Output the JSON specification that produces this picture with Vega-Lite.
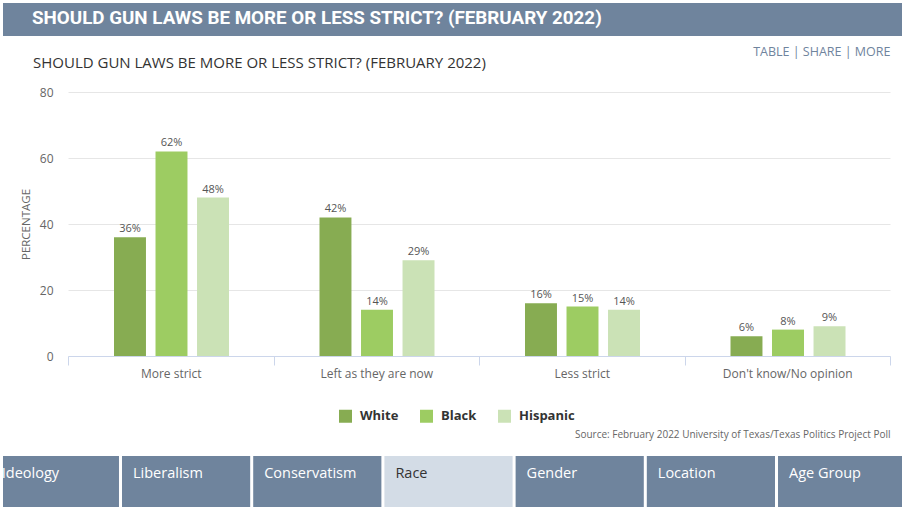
{
  "$schema": "https://vega.github.io/schema/vega-lite/v6.json",
  "padding": {"left": 3, "top": 3, "right": 0, "bottom": 0},
  "background": "white",
  "spacing": 9,
  "config": {"view": {"stroke": null}, "font": "Open Sans"},
  "datasets": {
    "poll": [
      {"response": "More strict", "race": "White", "pct": 36, "label": "36%"},
      {"response": "More strict", "race": "Black", "pct": 62, "label": "62%"},
      {"response": "More strict", "race": "Hispanic", "pct": 48, "label": "48%"},
      {"response": "Left as they are now", "race": "White", "pct": 42, "label": "42%"},
      {"response": "Left as they are now", "race": "Black", "pct": 14, "label": "14%"},
      {"response": "Left as they are now", "race": "Hispanic", "pct": 29, "label": "29%"},
      {"response": "Less strict", "race": "White", "pct": 16, "label": "16%"},
      {"response": "Less strict", "race": "Black", "pct": 15, "label": "15%"},
      {"response": "Less strict", "race": "Hispanic", "pct": 14, "label": "14%"},
      {"response": "Don't know/No opinion", "race": "White", "pct": 6, "label": "6%"},
      {"response": "Don't know/No opinion", "race": "Black", "pct": 8, "label": "8%"},
      {"response": "Don't know/No opinion", "race": "Hispanic", "pct": 9, "label": "9%"}
    ],
    "tabs": [
      {"tab": "Ideology", "active": false},
      {"tab": "Liberalism", "active": false},
      {"tab": "Conservatism", "active": false},
      {"tab": "Race", "active": true},
      {"tab": "Gender", "active": false},
      {"tab": "Location", "active": false},
      {"tab": "Age Group", "active": false}
    ]
  },
  "vconcat": [
    {
      "width": 899,
      "height": 33,
      "view": {"fill": "#6f849d", "stroke": null},
      "title": {
        "text": "SHOULD GUN LAWS BE MORE OR LESS STRICT? (FEBRUARY 2022)",
        "orient": "bottom",
        "anchor": "start",
        "frame": "group",
        "offset": -27,
        "dx": 29,
        "color": "white",
        "fontSize": 18.8,
        "fontWeight": "bold",
        "font": "Roboto"
      },
      "data": {"values": []},
      "mark": {"type": "point", "opacity": 0},
      "encoding": {}
    },
    {
      "hconcat": [
        {
          "width": 65,
          "height": 355,
          "data": {"values": []},
          "mark": {"type": "point", "opacity": 0},
          "encoding": {}
        },
        {
          "title": {
            "text": "Source: February 2022 University of Texas/Texas Politics Project Poll",
            "orient": "bottom",
            "anchor": "end",
            "frame": "bounds",
            "offset": 51,
            "fontSize": 10,
            "fontWeight": "normal",
            "color": "#666666"
          },
          "bounds": "flush",
          "vconcat": [
            {
              "title": {
                "text": "TABLE  |  SHARE  |  MORE",
                "anchor": "end",
                "frame": "bounds",
                "fontSize": 12.5,
                "fontWeight": "normal",
                "color": "#6f849d",
                "offset": -2
              },
              "bounds": "flush",
              "vconcat": [
                {
                  "width": 822,
                  "height": 264,
                  "data": {"name": "poll"},
                  "title": {
                    "text": "SHOULD GUN LAWS BE MORE OR LESS STRICT? (FEBRUARY 2022)",
                    "anchor": "start",
                    "frame": "group",
                    "dx": -35,
                    "fontSize": 15,
                    "fontWeight": "normal",
                    "color": "#333333",
                    "offset": 15
                  },
                  "encoding": {
                    "x": {
                      "field": "response",
                      "type": "nominal",
                      "sort": ["More strict", "Left as they are now", "Less strict", "Don't know/No opinion"],
                      "scale": {"paddingInner": 0, "paddingOuter": 0},
                      "axis": {
                        "title": null,
                        "labelAngle": 0,
                        "labelFontSize": 12,
                        "labelColor": "#666666",
                        "labelPadding": 3,
                        "tickBand": "extent",
                        "tickColor": "#ccd6eb",
                        "tickSize": 9,
                        "domainColor": "#ccd6eb",
                        "grid": false
                      }
                    },
                    "xOffset": {
                      "field": "race",
                      "type": "nominal",
                      "sort": ["White", "Black", "Hispanic"],
                      "scale": {"range": [46, 161], "paddingInner": 0.23, "paddingOuter": 0}
                    },
                    "y": {
                      "field": "pct",
                      "type": "quantitative",
                      "scale": {"domain": [0, 80]},
                      "axis": {
                        "title": "PERCENTAGE",
                        "titleFontSize": 11.5,
                        "titleFontWeight": "normal",
                        "titleColor": "#666666",
                        "titlePadding": 8,
                        "values": [0, 20, 40, 60, 80],
                        "grid": true,
                        "gridColor": "#e6e6e6",
                        "domain": false,
                        "ticks": false,
                        "labelFontSize": 12,
                        "labelColor": "#666666",
                        "labelPadding": 15
                      }
                    }
                  },
                  "layer": [
                    {
                      "mark": {"type": "bar"},
                      "encoding": {
                        "color": {
                          "field": "race",
                          "type": "nominal",
                          "sort": ["White", "Black", "Hispanic"],
                          "scale": {"domain": ["White", "Black", "Hispanic"], "range": ["#87ac52", "#9dcc62", "#cbe2b6"]},
                          "legend": {
                            "orient": "none",
                            "legendX": 336,
                            "legendY": 406.5,
                            "direction": "horizontal",
                            "title": null,
                            "symbolType": "square",
                            "symbolSize": 169,
                            "symbolStrokeWidth": 0,
                            "labelFontSize": 13,
                            "labelFontWeight": "bold",
                            "labelColor": "#333333",
                            "columnPadding": 21,
                            "labelOffset": 8,
                            "padding": 0
                          }
                        }
                      }
                    },
                    {
                      "mark": {"type": "text", "dy": -8, "fontSize": 11, "color": "#555555"},
                      "encoding": {"text": {"field": "label"}}
                    }
                  ]
                }
              ]
            }
          ]
        }
      ],
      "spacing": 0,
      "bounds": "flush"
    },
    {
      "width": 899,
      "height": 51,
      "data": {"name": "tabs"},
      "encoding": {
        "x": {
          "field": "tab",
          "type": "nominal",
          "sort": null,
          "scale": {"range": [-12.2, 903.2], "paddingInner": 0.023, "paddingOuter": 0},
          "axis": null
        }
      },
      "layer": [
        {
          "mark": {"type": "rect", "clip": true},
          "encoding": {
            "color": {"condition": {"test": "datum.active", "value": "#d3dce6"}, "value": "#6f849d"}
          }
        },
        {
          "mark": {"type": "text", "align": "left", "dx": 11, "dy": -8, "fontSize": 14.5, "clip": true},
          "encoding": {
            "x": {"field": "tab", "type": "nominal", "sort": null, "bandPosition": 0},
            "text": {"field": "tab"},
            "color": {"condition": {"test": "datum.active", "value": "#333333"}, "value": "white"}
          }
        }
      ]
    }
  ]
}
